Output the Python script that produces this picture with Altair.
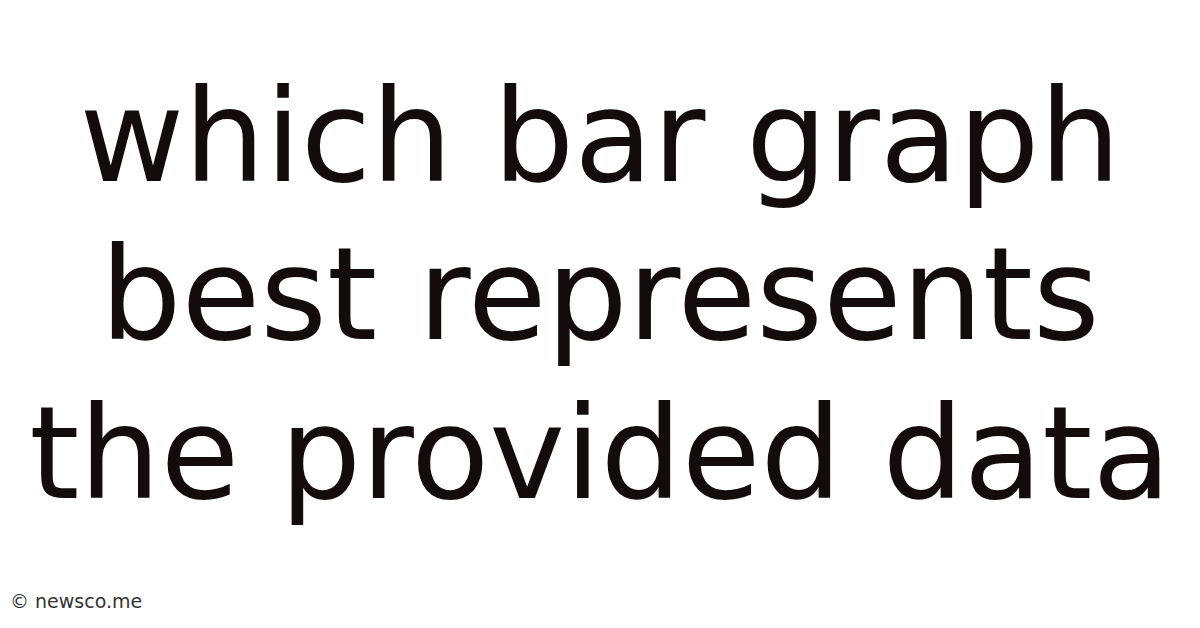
import altair as alt
import pandas as pd

lines = ["which bar graph", "best represents", "the provided data"]
line_index = [1, 2, 3]
watermark = ["© newsco.me"]

df = pd.DataFrame({"text": lines, "line": line_index, "col": [0, 0, 0]})
wm = pd.DataFrame({"text": watermark, "line": [3.7], "col": [-1]})

W, H = 1184, 612

x_scale = alt.Scale(domain=[-1, 1], range=[2, 1182])
y_scale = alt.Scale(domain=[0, 4], range=[14, 14 + 4 * 158.5])

main = alt.Chart(df).mark_text(
    font="DejaVu Sans", fontSize=128, color="#140c0c", align="center", baseline="alphabetic"
).encode(
    x=alt.X("col:Q", scale=x_scale, axis=None),
    y=alt.Y("line:Q", scale=y_scale, axis=None),
    text="text:N",
)

mark = alt.Chart(wm).mark_text(
    font="DejaVu Sans", fontSize=19, color="#333333", align="left", baseline="alphabetic"
).encode(
    x=alt.X("col:Q", scale=x_scale, axis=None),
    y=alt.Y("line:Q", scale=y_scale, axis=None),
    text="text:N",
)

chart = alt.layer(main, mark).properties(
    width=W, height=H, padding=0, background="#ffffff",
    autosize=alt.AutoSizeParams(type="none")
).configure_view(stroke=None)

chart.save("out.html", embed_options={"renderer": "svg", "actions": False})
